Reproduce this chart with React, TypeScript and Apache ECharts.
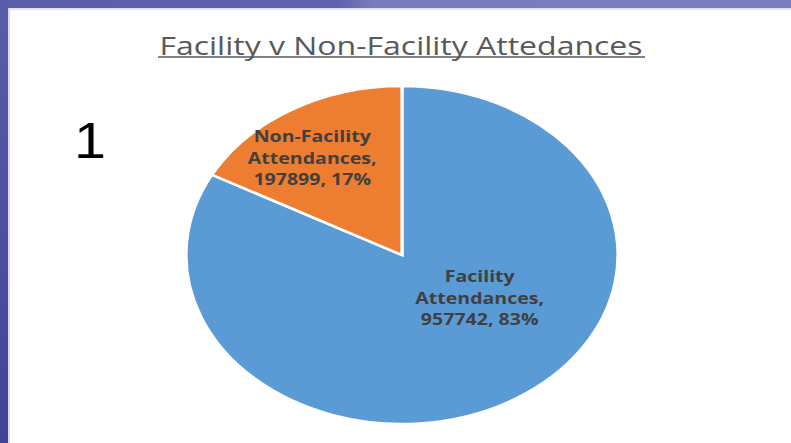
import React, { useEffect, useRef } from "react";
import * as echarts from "echarts";

const categories = ["Facility Attendances", "Non-Facility Attendances"];
const values = [957742, 197899];
const titleText = "Facility v Non-Facility Attedances";
const slideNumber = "1";

const COLORS = ["#5b9bd5", "#ed7d31"];

export default function App() {
  const ref = useRef<HTMLDivElement>(null);
  useEffect(() => {
    const chart = echarts.init(ref.current!, null, { renderer: "svg" });
    const total = values.reduce((a, b) => a + b, 0);
    const cx = 402;
    const cy = 255;
    const ry = 169;
    const rx = 216;
    const sx = rx / ry;
    const labelPlace = [
      { frac: 0.44, dAngle: -24 },
      { frac: 0.71, dAngle: -5 },
    ];
    const cum: number[] = [];
    let acc = 0;
    values.forEach((v) => {
      cum.push(acc);
      acc += v;
    });

    const renderItem = (params: any, api: any) => {
      const i = params.dataIndex;
      const v = api.value(0);
      const a0 = (cum[i] / total) * Math.PI * 2;
      const a1 = ((cum[i] + v) / total) * Math.PI * 2;
      const start = -Math.PI / 2 + a0;
      const end = -Math.PI / 2 + a1;
      const midDeg = ((a0 + a1) / 2) * (180 / Math.PI) + labelPlace[i].dAngle;
      const mid = (midDeg * Math.PI) / 180;
      const lr = labelPlace[i].frac * ry;
      const lx = cx + Math.sin(mid) * lr * sx;
      const ly = cy - Math.cos(mid) * lr;
      const pct = Math.round((v / total) * 100);
      const text =
        categories[i].split(" ").join("\n") + ",\n" + v + ", " + pct + "%";
      return {
        type: "group",
        children: [
          {
            type: "sector",
            x: cx,
            y: cy,
            scaleX: sx,
            shape: { cx: 0, cy: 0, r: ry, r0: 0, startAngle: start, endAngle: end, clockwise: true },
            style: { fill: COLORS[i], stroke: "#ffffff", lineWidth: 2.5, strokeNoScale: true },
          },
          {
            type: "text",
            x: lx,
            y: ly,
            scaleX: sx,
            z2: 10,
            style: {
              text,
              fill: "#404040",
              font: "bold 15.3px 'Open Sans'",
              align: "center",
              verticalAlign: "middle",
              textAlign: "center",
              textVerticalAlign: "middle",
              lineHeight: 21.5,
            },
          },
        ],
      };
    };

    chart.setOption({
      animation: false,
      backgroundColor: "#ffffff",
      graphic: [
        {
          type: "rect",
          shape: { x: 0, y: 0, width: 791, height: 8 },
          style: {
            fill: new echarts.graphic.LinearGradient(0, 0, 1, 0, [
              { offset: 0, color: "#5b5ea8" },
              { offset: 0.43, color: "#6063aa" },
              { offset: 0.47, color: "#787bbe" },
              { offset: 1, color: "#7a7dc0" },
            ]),
          },
        },
        {
          type: "rect",
          shape: { x: 0, y: 8, width: 791, height: 2 },
          style: { fill: "#e2e2f2" },
        },
        {
          type: "rect",
          shape: { x: 0, y: 0, width: 8, height: 443 },
          style: {
            fill: new echarts.graphic.LinearGradient(0, 0, 0, 1, [
              { offset: 0, color: "#5a5da8" },
              { offset: 1, color: "#3f4496" },
            ]),
          },
        },
        {
          type: "rect",
          shape: { x: 8, y: 8, width: 2, height: 435 },
          style: { fill: "#d8d9ef" },
        },
        {
          type: "text",
          x: 401,
          y: 45,
          scaleX: 1.28,
          style: {
            text: titleText,
            fill: "#595959",
            font: "25px 'Open Sans'",
            align: "center",
            verticalAlign: "middle",
            textAlign: "center",
            textVerticalAlign: "middle",
          },
        },
        {
          type: "line",
          shape: { x1: 158, y1: 57, x2: 645, y2: 57 },
          style: { stroke: "#595959", lineWidth: 1.3 },
        },
        {
          type: "text",
          x: 74,
          y: 140,
          scaleX: 1.15,
          style: {
            text: slideNumber,
            fill: "#000000",
            font: "50px 'Liberation Sans'",
            align: "left",
            verticalAlign: "middle",
            textAlign: "left",
            textVerticalAlign: "middle",
          },
        },
      ],
      series: [
        {
          type: "custom",
          coordinateSystem: "none",
          renderItem,
          data: values.map((v, i) => ({ value: [v], name: categories[i] })),
        },
      ],
    });
    return () => chart.dispose();
  }, []);
  return (
    <div
      ref={ref}
      style={{ position: "fixed", left: 0, top: 0, width: 791, height: 443 }}
    />
  );
}
